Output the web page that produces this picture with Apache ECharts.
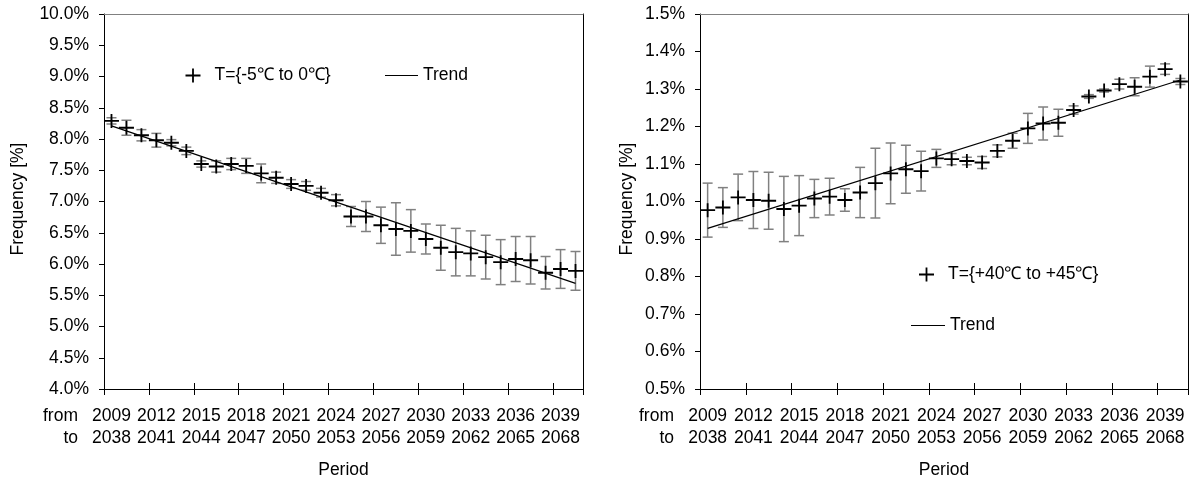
<!DOCTYPE html>
<html>
<head>
<meta charset="utf-8">
<script src="https://cdn.jsdelivr.net/npm/echarts@6/dist/echarts.min.js"></script>
<style>html,body{margin:0;padding:0;background:#fff}#c{width:1192px;height:481px}</style>
</head>
<body>
<div id="c"></div>
<script>
// ---- data ----
const fromYears = [2009,2010,2011,2012,2013,2014,2015,2016,2017,2018,2019,2020,2021,2022,2023,2024,2025,2026,2027,2028,2029,2030,2031,2032,2033,2034,2035,2036,2037,2038,2039,2040];
const toYears   = [2038,2039,2040,2041,2042,2043,2044,2045,2046,2047,2048,2049,2050,2051,2052,2053,2054,2055,2056,2057,2058,2059,2060,2061,2062,2063,2064,2065,2066,2067,2068,2069];

const coldName = 'T={-5\u2103 to 0\u2103}';
const coldValues = [8.29,8.18,8.06,7.98,7.94,7.81,7.60,7.56,7.60,7.57,7.45,7.38,7.28,7.25,7.14,7.02,6.76,6.76,6.62,6.56,6.53,6.40,6.26,6.19,6.17,6.11,6.03,6.08,6.06,5.86,5.92,5.89];
const coldErr    = [0.05,0.12,0.09,0.11,0.05,0.06,0.05,0.09,0.09,0.12,0.15,0.09,0.07,0.07,0.07,0.09,0.16,0.24,0.29,0.42,0.34,0.24,0.36,0.38,0.36,0.35,0.36,0.36,0.38,0.26,0.31,0.31];
const coldTrend  = [[0, 8.21], [31, 5.69]];

const hotName = 'T={+40\u2103 to +45\u2103}';
const hotValues = [0.977,0.984,1.011,1.004,1.002,0.980,0.989,1.008,1.013,1.004,1.024,1.049,1.075,1.086,1.081,1.115,1.113,1.108,1.104,1.135,1.162,1.195,1.208,1.210,1.244,1.280,1.296,1.313,1.306,1.333,1.353,1.320];
const hotErr    = [0.072,0.053,0.062,0.076,0.076,0.087,0.080,0.051,0.049,0.030,0.067,0.093,0.081,0.064,0.053,0.024,0.015,0.010,0.016,0.016,0.020,0.040,0.044,0.036,0.011,0.005,0.004,0.013,0.024,0.028,0.014,0.008];
const hotTrend  = [[0, 0.9285], [31, 1.324]];

const coldAxis = {min: 4.0, max: 10.0, interval: 0.5};
const hotAxis  = {min: 0.5, max: 1.5, interval: 0.1};

// ---- chart ----
const FONT = '"Liberation Sans", Arial, sans-serif';
const FS = 17.5;
const PLUS = 'path://M0,6.1H15V7.9H0Z M6.6,0H8.4V14H6.6Z';
const LINE_ICON = 'path://M0,0H34V1.2H0Z';
const categories = fromYears.map((f, i) => f + '\n' + toYears[i]);

const grids = [
  {left: 104, top: 14, width: 479, height: 375},
  {left: 700, top: 14, width: 488, height: 375}
];

function xAxesFor(g) {
  return [
    {type: 'category', gridIndex: g, position: 'bottom', data: categories, boundaryGap: true,
     axisLine: {show: true, lineStyle: {color: '#000', width: 1}},
     axisTick: {show: true, interval: 2, length: 6, inside: false, lineStyle: {color: '#000'}},
     axisLabel: {interval: 2, margin: 16, fontFamily: FONT, fontSize: FS, color: '#000', lineHeight: 22},
     splitLine: {show: false}},
    {type: 'category', gridIndex: g, position: 'top', data: categories, boundaryGap: true,
     axisLine: {show: true, lineStyle: {color: '#808080', width: 1}},
     axisTick: {show: false}, axisLabel: {show: false}, splitLine: {show: false}},
    {type: 'category', gridIndex: g, position: 'bottom', data: categories, boundaryGap: true,
     axisLine: {show: false},
     axisTick: {show: true, interval: 2, length: 6, inside: true, lineStyle: {color: '#000'}},
     axisLabel: {show: false}, splitLine: {show: false}}
  ];
}
function yAxesFor(g, ax) {
  return [
    {type: 'value', gridIndex: g, position: 'left', min: ax.min, max: ax.max, interval: ax.interval,
     axisLine: {show: true, lineStyle: {color: '#000', width: 1}},
     axisTick: {show: true, length: 5, lineStyle: {color: '#000'}},
     axisLabel: {margin: 15, fontFamily: FONT, fontSize: FS, color: '#000',
                 formatter: v => v.toFixed(1) + '%'},
     splitLine: {show: false}},
    {type: 'value', gridIndex: g, position: 'right', min: ax.min, max: ax.max, interval: ax.interval,
     axisLine: {show: true, lineStyle: {color: '#000', width: 1}},
     axisTick: {show: false}, axisLabel: {show: false}, splitLine: {show: false}}
  ];
}

function errorSeries(xi, yi, values, errs) {
  return {
    type: 'custom', xAxisIndex: xi, yAxisIndex: yi, silent: true, z: 1,
    data: values.map((v, i) => [i, v, errs[i]]),
    encode: {x: 0, y: 1},
    renderItem: function (params, api) {
      const i = api.value(0), v = api.value(1), e = api.value(2);
      const top = api.coord([i, v + e]);
      const bot = api.coord([i, v - e]);
      const hw = 5;
      const st = {stroke: '#808080', lineWidth: 1.5, fill: null};
      return {type: 'group', children: [
        {type: 'line', shape: {x1: top[0], y1: top[1], x2: bot[0], y2: bot[1]}, style: st},
        {type: 'line', shape: {x1: top[0] - hw, y1: top[1], x2: top[0] + hw, y2: top[1]}, style: st},
        {type: 'line', shape: {x1: bot[0] - hw, y1: bot[1], x2: bot[0] + hw, y2: bot[1]}, style: st}
      ]};
    }
  };
}
function trendSeries(xi, yi, data) {
  return {type: 'line', name: 'Trend', xAxisIndex: xi, yAxisIndex: yi, data: data, z: 2,
          symbol: 'none', silent: true, lineStyle: {color: '#000', width: 1.2}, itemStyle: {color: '#000'}};
}
function pointSeries(xi, yi, name, values) {
  return {type: 'scatter', name: name, xAxisIndex: xi, yAxisIndex: yi, data: values, z: 3,
          symbol: PLUS, symbolSize: [15, 14], silent: true, itemStyle: {color: '#000', opacity: 1}};
}

const legendText = {fontFamily: FONT, fontSize: FS, color: '#000'};
const option = {
  animation: false,
  backgroundColor: '#fff',
  grid: grids,
  xAxis: [...xAxesFor(0), ...xAxesFor(1)],
  yAxis: [...yAxesFor(0, coldAxis), ...yAxesFor(1, hotAxis)],
  legend: [
    {data: [{name: coldName, icon: PLUS}], left: 185.5, top: 66.5, padding: 0, itemWidth: 33, itemHeight: 14, textStyle: legendText, selectedMode: false},
    {data: [{name: 'Trend', icon: LINE_ICON}], left: 385, top: 66.5, padding: 0, itemWidth: 33, itemHeight: 14, textStyle: legendText, selectedMode: false},
    {data: [{name: hotName, icon: PLUS}], left: 919, top: 265.5, padding: 0, itemWidth: 33, itemHeight: 14, textStyle: legendText, selectedMode: false},
    {data: [{name: 'Trend', icon: LINE_ICON}], left: 911, top: 316.5, padding: 0, itemWidth: 34, itemHeight: 14, textStyle: legendText, selectedMode: false}
  ],
  series: [
    errorSeries(0, 0, coldValues, coldErr),
    trendSeries(0, 0, coldTrend),
    pointSeries(0, 0, coldName, coldValues),
    errorSeries(3, 2, hotValues, hotErr),
    trendSeries(3, 2, hotTrend),
    pointSeries(3, 2, hotName, hotValues)
  ],
  graphic: [
    {type: 'text', x: 78, y: 416, style: {text: 'from', align: 'right', verticalAlign: 'middle', font: FS + 'px ' + FONT, fill: '#000'}},
    {type: 'text', x: 78, y: 438, style: {text: 'to', align: 'right', verticalAlign: 'middle', font: FS + 'px ' + FONT, fill: '#000'}},
    {type: 'text', x: 674, y: 416, style: {text: 'from', align: 'right', verticalAlign: 'middle', font: FS + 'px ' + FONT, fill: '#000'}},
    {type: 'text', x: 674, y: 438, style: {text: 'to', align: 'right', verticalAlign: 'middle', font: FS + 'px ' + FONT, fill: '#000'}},
    {type: 'text', x: 343.5, y: 470, style: {text: 'Period', align: 'center', verticalAlign: 'middle', font: FS + 'px ' + FONT, fill: '#000'}},
    {type: 'text', x: 944, y: 470, style: {text: 'Period', align: 'center', verticalAlign: 'middle', font: FS + 'px ' + FONT, fill: '#000'}},
    {type: 'text', x: 18, y: 199, rotation: Math.PI / 2, style: {text: 'Frequency [%]', align: 'center', verticalAlign: 'middle', font: FS + 'px ' + FONT, fill: '#000'}},
    {type: 'text', x: 627, y: 199, rotation: Math.PI / 2, style: {text: 'Frequency [%]', align: 'center', verticalAlign: 'middle', font: FS + 'px ' + FONT, fill: '#000'}}
  ]
};
const chart = echarts.init(document.getElementById('c'), null, {renderer: 'canvas'});
chart.setOption(option);
</script>
</body>
</html>
